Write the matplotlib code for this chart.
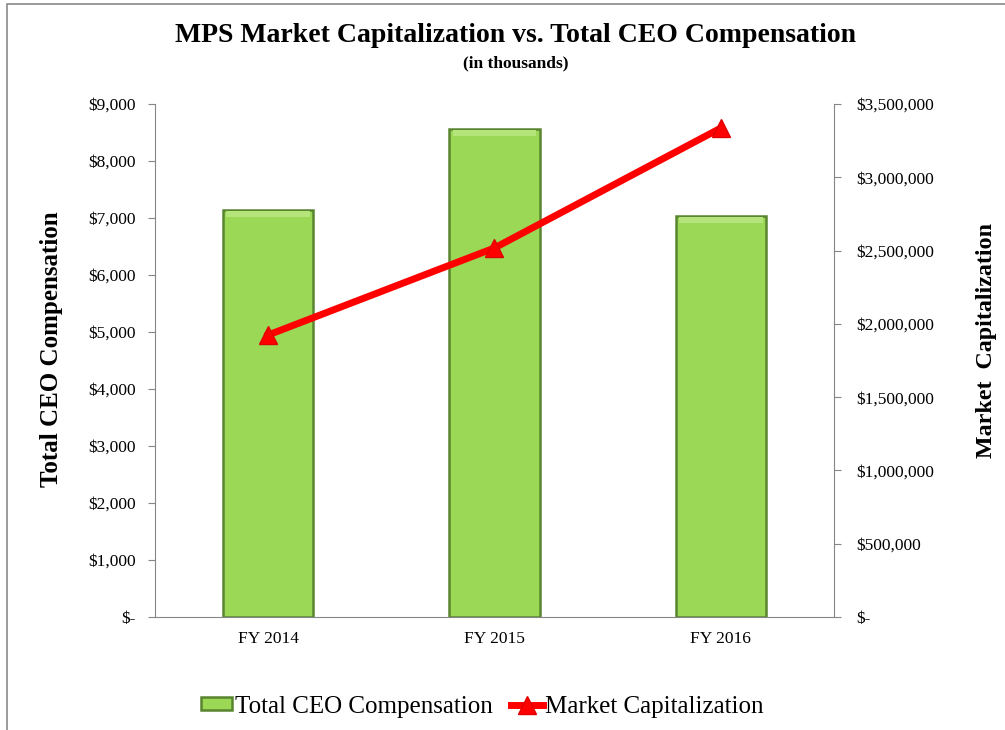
import numpy as np
from matplotlib import pyplot as plt
from matplotlib.patches import Rectangle
from matplotlib.ticker import FuncFormatter, MultipleLocator

years = ["FY 2014", "FY 2015", "FY 2016"]
ceo_comp = [7140, 8560, 7035]
market_cap = [1924000, 2518000, 3336000]

plt.rcParams['font.family'] = ['Liberation Serif', 'DejaVu Serif']

def money(v, pos):
    if v == 0:
        return "$-"
    return "${:,.0f}".format(v)

fig = plt.figure(figsize=(10.05, 7.3), dpi=100)
fig.patch.set_facecolor('white')

# thin grey frame round the whole chart (cut off at right/bottom)
fig.patches.append(Rectangle((0.007, -0.05), 1.2, 0.9945 + 0.05, transform=fig.transFigure,
                             fill=False, edgecolor='#8a8a8a', linewidth=1.2))

ax = fig.add_axes([0.1542, 0.1548, 0.6756, 0.7027])
ax2 = ax.twinx()

x = np.arange(len(years))
bars = ax.bar(x, ceo_comp, width=0.4, color='#9ad855', edgecolor='#5a8530',
              linewidth=1.8, label='Total CEO Compensation', zorder=2)
# lighter bevel strip along the top of each bar
ax.bar(x, 110, bottom=np.array(ceo_comp) - 125, width=0.37, color='#b4e47a',
       linewidth=0, zorder=2.5)
line, = ax2.plot(x, market_cap, color='#ff0000', linewidth=5, marker='^',
                 markersize=13, markeredgecolor='#e00000',
                 label='Market Capitalization', zorder=3)

ax.set_xlim(-0.5, 2.5)
ax.set_ylim(0, 9000)
ax2.set_ylim(0, 3500000)
ax.yaxis.set_major_locator(MultipleLocator(1000))
ax2.yaxis.set_major_locator(MultipleLocator(500000))
ax.yaxis.set_major_formatter(FuncFormatter(money))
ax2.yaxis.set_major_formatter(FuncFormatter(money))

ax.set_xticks(x)
ax.set_xticklabels(years)

for a in (ax, ax2):
    a.spines['top'].set_visible(False)
    for s in ('left', 'right', 'bottom'):
        a.spines[s].set_color('#868686')
    a.tick_params(axis='y', colors='#868686', labelcolor='black', length=5,
                  labelsize=12.5, pad=9)
ax.spines['right'].set_visible(False)
ax2.spines['left'].set_visible(False)
ax2.spines['bottom'].set_visible(False)
ax.tick_params(axis='x', length=0, labelsize=12.5, pad=10)
ax2.tick_params(axis='y', pad=11)

fig.text(0.513, 0.951, "MPS Market Capitalization vs. Total CEO Compensation",
         ha='center', va='center', fontsize=20, fontweight='bold')
fig.text(0.513, 0.913, "(in thousands)", ha='center', va='center',
         fontsize=12.5, fontweight='bold')
fig.text(0.051, 0.521, "Total CEO Compensation", rotation=90, ha='center',
         va='center', fontsize=18, fontweight='bold')
fig.text(0.982, 0.534, "Market  Capitalization", rotation=90, ha='center',
         va='center', fontsize=17.3, fontweight='bold')

fig.legend([bars, line], ['Total CEO Compensation', 'Market Capitalization'],
           loc='center', bbox_to_anchor=(0.48, 0.032), ncol=2, frameon=False,
           fontsize=18, handlelength=1.25, handleheight=0.45, handletextpad=0.1,
           columnspacing=0.75)

plt.savefig('out.png', dpi=100)
